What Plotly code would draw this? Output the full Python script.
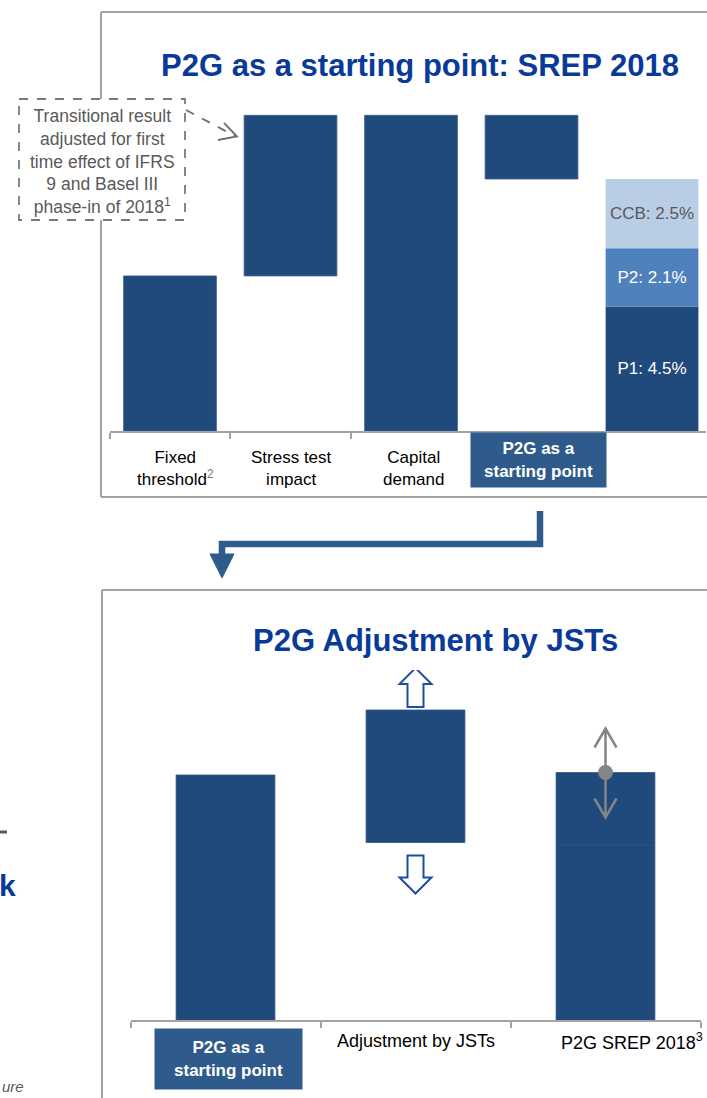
import plotly.graph_objects as go

W, H = 707, 1098
def px(x): return x / W
def py(y): return 1 - y / H

# ---------------- data ----------------
# top chart: "P2G as a starting point: SREP 2018" (in % of RWA)
top_categories = ["Fixed<br>threshold<span style='color:#777'><sup>2</sup></span>",
                  "Stress test<br>impact", "Capital<br>demand",
                  "P2G as a<br>starting point", ""]
fixed_threshold = 5.6
stress_test_impact = 5.8
capital_demand = 11.4
p2g_start = 2.3
srep_labels = ["P1", "P2", "CCB"]
srep_values = [4.5, 2.1, 2.5]

# bottom chart: "P2G Adjustment by JSTs" (index units)
bottom_categories = ["P2G as a<br>starting point", "Adjustment by JSTs",
                     "P2G SREP 2018<sup>3</sup>"]
p2g_starting = 9.8
jst_adjust_low = 7.1
jst_adjust_high = 12.4
srep2018_base = 7.0
srep2018_total = 9.9

# ---------------- styles ----------------
DARK = "#204a7b"
MID = "#4f81bd"
LIGHT = "#b9cde5"
BOX = "#2f5b8c"
TITLE = "#0a3a99"
BORDER = "#a3a3a3"
TXT = "#595959"
FONT = "Liberation Sans, Arial, sans-serif"

fig = go.Figure()

p1, p2, ccb = srep_values
srep_total = p1 + p2 + ccb

# top chart bars
fig.add_trace(go.Bar(
    x=[0, 1, 2, 3],
    y=[fixed_threshold, stress_test_impact, capital_demand, p2g_start],
    base=[0, fixed_threshold, 0, srep_total],
    width=0.77, marker=dict(color=DARK, line=dict(color="#3a5f8c", width=0.8)),
    xaxis="x", yaxis="y", hoverinfo="skip"))
stack_colors = [DARK, MID, LIGHT]
stack_text_colors = ["white", "white", TXT]
bases = [0, p1, p1 + p2]
for lab, val, b, c, tc in zip(srep_labels, srep_values, bases, stack_colors, stack_text_colors):
    fig.add_trace(go.Bar(
        x=[4], y=[val], base=[b], width=0.77, marker=dict(color=c, line=dict(width=0)),
        text=[f"{lab}: {val}%"], textposition="inside", insidetextanchor="middle",
        constraintext="none", textfont=dict(color=tc, size=17, family=FONT),
        xaxis="x", yaxis="y", hoverinfo="skip"))

# bottom chart bars
fig.add_trace(go.Bar(
    x=[0, 1, 2, 2],
    y=[p2g_starting, jst_adjust_high - jst_adjust_low, srep2018_base,
       srep2018_total - srep2018_base],
    base=[0, jst_adjust_low, 0, srep2018_base],
    width=0.52, marker=dict(color=DARK, line=dict(color="#2c5586", width=0.8)),
    xaxis="x2", yaxis="y2", hoverinfo="skip"))

axis_common = dict(showgrid=False, zeroline=False, showticklabels=False,
                   ticks="outside", ticklen=6, tickcolor=BORDER, tickwidth=1.5,
                   showline=True, linecolor=BORDER, fixedrange=True)

fig.update_layout(
    width=W, height=H, margin=dict(l=0, r=0, t=0, b=0),
    paper_bgcolor="white", plot_bgcolor="rgba(0,0,0,0)",
    showlegend=False, barmode="overlay",
    font=dict(family=FONT, color="black"),
    xaxis=dict(domain=[px(109.75), px(706.25)], range=[-0.5, 4.45], anchor="y",
               tickmode="array", tickvals=[-0.5, 0.5, 1.5], linewidth=2, **axis_common),
    yaxis=dict(domain=[py(431), py(98.7)], range=[0, 12], visible=False, fixedrange=True),
    xaxis2=dict(domain=[px(130.5), px(700.5)], range=[-0.5, 2.5], anchor="y2",
                tickmode="array", tickvals=[-0.5, 0.5, 1.5, 2.5], linewidth=1.5, **axis_common),
    yaxis2=dict(domain=[py(1020), py(670)], range=[0, 14], visible=False, fixedrange=True),
)

shapes = []
def line(x0, y0, x1, y1, color=BORDER, width=2, dash="solid"):
    shapes.append(dict(type="line", xref="paper", yref="paper",
                       x0=px(x0), y0=py(y0), x1=px(x1), y1=py(y1),
                       line=dict(color=color, width=width, dash=dash)))

def ppath(points, close=False):
    s = "M " + " L ".join(f"{px(x):.5f},{py(y):.5f}" for x, y in points)
    return s + (" Z" if close else "")

# panel borders
line(101, 12, 707, 12)
line(101, 12, 101, 497)
line(101, 497, 707, 497)
line(102, 590, 707, 590)
line(102, 590, 102, 1098)

# dashed callout box + arrow
shapes.append(dict(type="rect", xref="paper", yref="paper",
                   x0=px(19), y0=py(99), x1=px(185), y1=py(220),
                   fillcolor="white", line=dict(color="#7a7a7a", width=1.8, dash="dash")))
line(186, 110, 235, 136, color="#6e6e6e", width=1.8, dash="dash")
shapes.append(dict(type="path", xref="paper", yref="paper",
                   path=ppath([(224, 123), (237, 136.5), (218, 140)]),
                   line=dict(color="#6e6e6e", width=1.8)))

# connector arrow between panels
shapes.append(dict(type="path", xref="paper", yref="paper",
                   path=ppath([(540, 511), (540, 544), (222, 544), (222, 557)]),
                   line=dict(color=BOX, width=6.5)))
shapes.append(dict(type="path", xref="paper", yref="paper",
                   path=ppath([(210, 554), (234, 554), (222, 578)], close=True),
                   fillcolor=BOX, line=dict(color=BOX, width=1)))

# hollow up/down arrows around the JST adjustment bar
ARW = "#1c4ea3"
shapes.append(dict(type="path", xref="x2", yref="y2", xsizemode="pixel", ysizemode="pixel",
                   xanchor=1, yanchor=jst_adjust_high,
                   path="M -8,3 L -8,26 L -16,26 L 0,42 L 16,26 L 8,26 L 8,3 Z",
                   fillcolor="white", line=dict(color=ARW, width=2)))
shapes.append(dict(type="path", xref="x2", yref="y2", xsizemode="pixel", ysizemode="pixel",
                   xanchor=1, yanchor=jst_adjust_low,
                   path="M -8,-13 L -8,-35 L -16,-35 L 0,-51 L 16,-35 L 8,-35 L 8,-13 Z",
                   fillcolor="white", line=dict(color=ARW, width=2)))

# grey double arrow on SREP 2018 bar
GR = "#858585"
shapes.append(dict(type="path", xref="x2", yref="y2", xsizemode="pixel", ysizemode="pixel",
                   xanchor=2, yanchor=srep2018_total,
                   path="M 0,0 L 0,44 M -11,25 L 0,44 L 11,25",
                   line=dict(color=GR, width=2.5)))
shapes.append(dict(type="path", xref="x2", yref="y2", xsizemode="pixel", ysizemode="pixel",
                   xanchor=2, yanchor=srep2018_total,
                   path="M 0,0 L 0,-45 M -11,-26 L 0,-45 L 11,-26",
                   line=dict(color=GR, width=2.5)))
shapes.append(dict(type="circle", xref="x2", yref="y2", xsizemode="pixel", ysizemode="pixel",
                   xanchor=2, yanchor=srep2018_total, x0=-7.5, x1=7.5, y0=-7.5, y1=7.5,
                   fillcolor=GR, line=dict(width=0)))

# fragment of neighbouring slide text
line(0, 832, 7, 832, color=TXT, width=3)

fig.update_layout(shapes=shapes)

ann = []
def note(text, x, y, size, color, xref="paper", xanchor="center", yanchor="middle", **kw):
    ann.append(dict(text=text, xref=xref, yref="paper", x=x, y=y, xanchor=xanchor,
                    yanchor=yanchor, showarrow=False,
                    font=dict(size=size, color=color, family=FONT), **kw))

# titles
note("<b>P2G as a starting point: SREP 2018</b>", px(420), py(66), 31, TITLE)
note("<b>P2G Adjustment by JSTs</b>", px(435), py(640), 31, TITLE)
# callout text
note("Transitional result<br>adjusted for first<br>time effect of IFRS<br>"
     "9 and Basel III<br>phase-in of 2018<sup>1</sup>", px(102), py(161.5), 17.5, TXT,
     align="center")

# top category labels
top_shift = [5, 1, 2, 7, 0]
for i, lab in enumerate(top_categories):
    if not lab:
        continue
    if i == 3:
        note(f"<b>{lab}</b>", i, py(432), 17, "white", xref="x", yanchor="top",
             xshift=top_shift[i], width=131, height=50, borderpad=2, bgcolor=BOX,
             align="center", valign="middle")
    else:
        note(lab, i, py(468), 17, "black", xref="x", xshift=top_shift[i], align="center")

# bottom category labels
note(f"<b>{bottom_categories[0]}</b>", 0, py(1028), 17, "white", xref="x2", yanchor="top",
     xshift=3, width=143, height=56, borderpad=2, bgcolor=BOX, align="center", valign="middle")
note(bottom_categories[1], 1, py(1041), 18, "black", xref="x2")
note(bottom_categories[2], 2, py(1041), 18, "black", xref="x2", xshift=26)

# fragments of neighbouring slide text
note("<b>k</b>", px(18), py(885), 30, TITLE, xanchor="right")
note("<i>ure</i>", 0, py(1097), 15, TXT, xanchor="left", yanchor="bottom")

fig.update_layout(annotations=ann)
fig.write_html("out.html")
